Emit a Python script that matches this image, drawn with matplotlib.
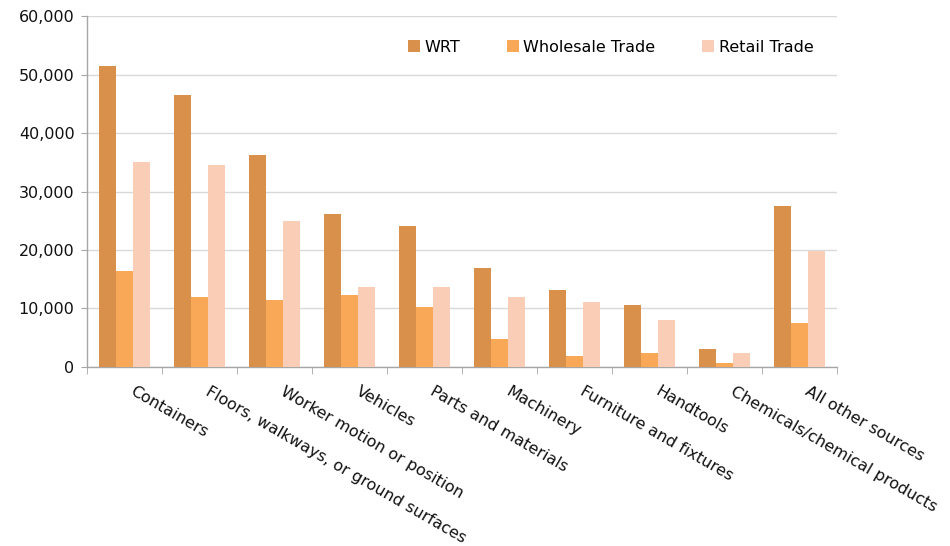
"""Grouped bar chart: injury sources in wholesale and retail trade."""

import matplotlib.pyplot as plt
import matplotlib.transforms as mtransforms
import numpy as np
from matplotlib.ticker import FuncFormatter

categories = [
    "Containers",
    "Floors, walkways, or ground surfaces",
    "Worker motion or position",
    "Vehicles",
    "Parts and materials",
    "Machinery",
    "Furniture and fixtures",
    "Handtools",
    "Chemicals/chemical products",
    "All other sources",
]
wrt = [51500, 46600, 36300, 26200, 24100, 16900, 13200, 10600, 3100, 27600]
wholesale = [16400, 12000, 11500, 12300, 10300, 4800, 1900, 2400, 700, 7500]
retail = [35100, 34600, 25000, 13700, 13700, 12000, 11100, 8000, 2400, 19900]
series_names = ["WRT", "Wholesale Trade", "Retail Trade"]
colors = ["#D8904A", "#F9A858", "#FACDB7"]

plt.rcParams["font.family"] = ["DejaVu Sans"]

fig = plt.figure(figsize=(9.5, 5.46), dpi=100)
ax = fig.add_axes([0.0916, 0.328, 0.7894, 0.642])

x = np.arange(len(categories))
width = 0.227
for i, (vals, name, col) in enumerate(zip([wrt, wholesale, retail], series_names, colors)):
    ax.bar(x + (i - 1) * width, vals, width, color=col, label=name, zorder=3)

ax.set_xlim(-0.5, len(categories) - 0.5)
ax.set_ylim(0, 60000)
ax.set_yticks(np.arange(0, 60001, 10000))
ax.yaxis.set_major_formatter(FuncFormatter(lambda v, _: f"{int(v):,}"))
ax.grid(axis="y", color="#D9D9D9", linewidth=1, zorder=0)

for s in ["top", "right"]:
    ax.spines[s].set_visible(False)
for s in ["left", "bottom"]:
    ax.spines[s].set_color("#A6A6A6")
    ax.spines[s].set_linewidth(1)

# category labels: rotated, hanging from just right of each group centre
ax.set_xticks([])
trans = mtransforms.blended_transform_factory(ax.transData, ax.transAxes)
trans = trans + mtransforms.ScaledTranslation(11 / 100, -17 / 100, fig.dpi_scale_trans)
for xi, name in zip(x, categories):
    ax.text(xi, 0, name, transform=trans, rotation=-30, rotation_mode="anchor",
            ha="left", va="top", fontsize=11.5, color="#111111")

ax.set_xticks(np.arange(-0.5, len(categories), 1), minor=True)
ax.tick_params(axis="x", which="minor", length=5, color="#A6A6A6", labelbottom=False)
ax.tick_params(axis="y", length=4, color="#A6A6A6", labelsize=11.5, labelcolor="#111111", pad=5)

ax.legend(
    loc="upper center",
    bbox_to_anchor=(0.698, 0.975),
    ncol=3,
    frameon=False,
    fontsize=11.5,
    handlelength=0.75,
    handleheight=0.75,
    handletextpad=0.3,
    columnspacing=2.9,
)

fig.savefig("out.png", dpi=100)
